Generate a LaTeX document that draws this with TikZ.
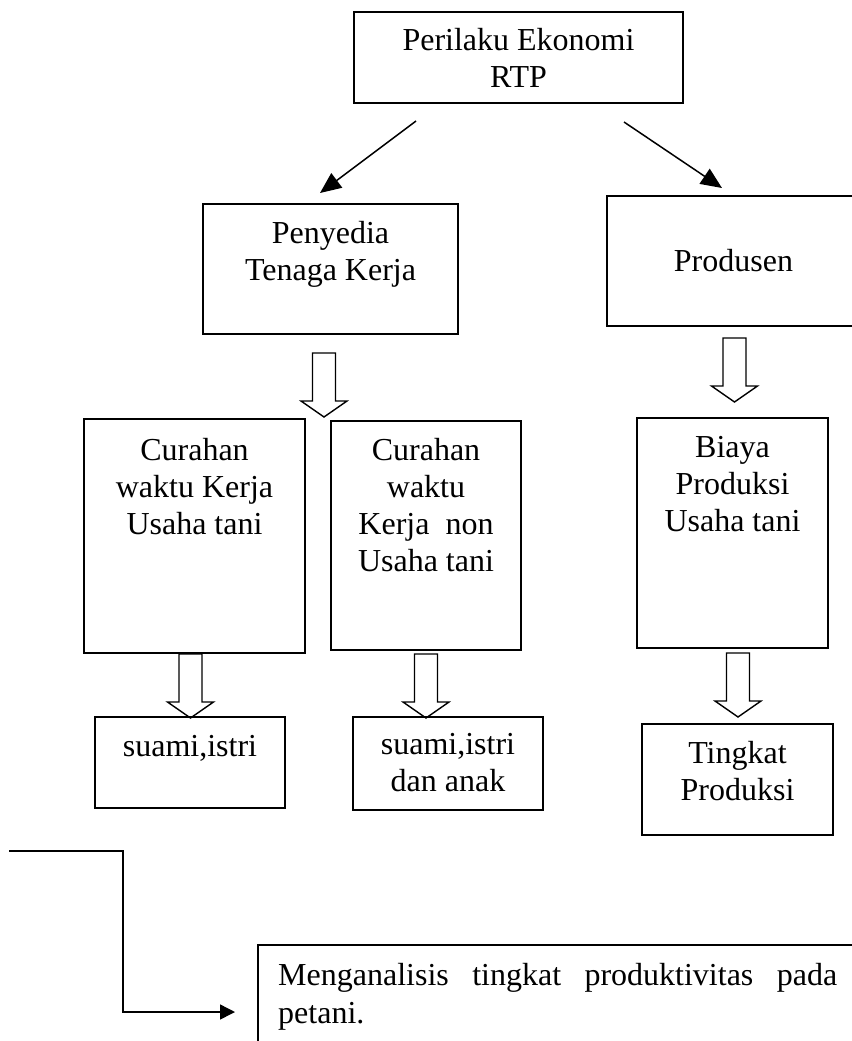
\documentclass[tikz,border=0pt]{standalone}
\usepackage{fontspec}
\setmainfont{Liberation Serif}
\usetikzlibrary{arrows.meta, calc}

\begin{document}
\begin{tikzpicture}[
    x=1pt, y=-1pt,
    every node/.style={font=\fontsize{32}{37}\selectfont},
    box/.style={draw, line width=1.5pt, inner sep=0pt, outer sep=0pt},
    txt/.style={align=center, inner sep=0pt, anchor=north},
    arrow/.style={-{Triangle[length=21pt, width=18pt]}, line width=1.5pt},
    openarrow/.pic={\draw[line width=1.4pt, miter limit=10] (-11.5,0) -- (-11.5,48) -- (-23,48) -- (0,64) -- (23,48) -- (11.5,48) -- (11.5,0) -- cycle;}
]
    \useasboundingbox (0,0) rectangle (851,1041);

    % Top level
    \node[box, align=center, minimum width=329pt, minimum height=91pt] (rtp) at (518.5,57.5) {Perilaku Ekonomi\\RTP};

    % Second level
    \node[box, minimum width=255pt, minimum height=130pt] (penyedia) at (330.5,269) {};
    \node[txt] (penyedia-t) at ($(penyedia.north)+(0,17)$) {Penyedia\\Tenaga Kerja};
    \node[box, minimum width=253pt, minimum height=130pt] (produsen) at (733.5,261) {Produsen};

    \draw[arrow] ($(rtp.south west)+(62,18)$) -- ($(penyedia.north)+(-10.5,-11)$);
    \draw[arrow] ($(rtp.south east)+(-59,19)$) -- ($(produsen.north)+(-11.5,-8)$);

    % Third level
    \node[box, minimum width=221pt, minimum height=234pt] (cur1) at (194.5,536) {};
    \node[txt] (cur1-t) at ($(cur1.north)+(0,19)$) {Curahan\\waktu Kerja\\Usaha tani};
    \node[box, minimum width=190pt, minimum height=229pt] (cur2) at (426,535.5) {};
    \node[txt] (cur2-t) at ($(cur2.north)+(0,17)$) {Curahan\\waktu\\Kerja\ \ non\\Usaha tani};
    \node[box, minimum width=191pt, minimum height=230pt] (biaya) at (732.5,533) {};
    \node[txt] (biaya-t) at ($(biaya.north)+(0,18)$) {Biaya\\Produksi\\Usaha tani};

    \pic at ($(penyedia.south)+(-6.5,19)$) {openarrow};
    \pic at ($(biaya.north)+(2,-80)$) {openarrow};

    % Fourth level
    \node[box, minimum width=190pt, minimum height=91pt] (suami1) at (190,762.5) {};
    \node[txt] (suami1-t) at ($(suami1.north)+(0,18)$) {suami,istri};
    \node[box, minimum width=190pt, minimum height=93pt] (suami2) at (448,763.5) {};
    \node[txt] (suami2-t) at ($(suami2.north)+(0,16)$) {suami,istri\\dan anak};
    \node[box, minimum width=191pt, minimum height=111pt] (tingkat) at (737.5,779.5) {};
    \node[txt] (tingkat-t) at ($(tingkat.north)+(0,17)$) {Tingkat\\Produksi};

    \pic at ($(cur1.south)+(-4,1)$) {openarrow};
    \pic at ($(cur2.south)+(0,4)$) {openarrow};
    \pic at ($(biaya.south)+(5.5,5)$) {openarrow};

    % Analysis
    \node[box, minimum width=602pt, minimum height=115pt] (anal) at (559,1002.5) {};
    \node[txt, anchor=north west, text width=559pt, align=justify, font=\fontsize{32}{38}\selectfont] (anal-t) at ($(anal.north west)+(20,18)$) {\hyphenpenalty=10000 \tolerance=9999 Menganalisis tingkat produktivitas pada petani.};

    \coordinate (start) at (9,851);
    \draw[line width=1.5pt, -{Triangle[length=15pt, width=15pt]}] (start) -| ($(anal.west)+(-135,9.5)$) -- ($(anal.west)+(-23,9.5)$);
\end{tikzpicture}
\end{document}
